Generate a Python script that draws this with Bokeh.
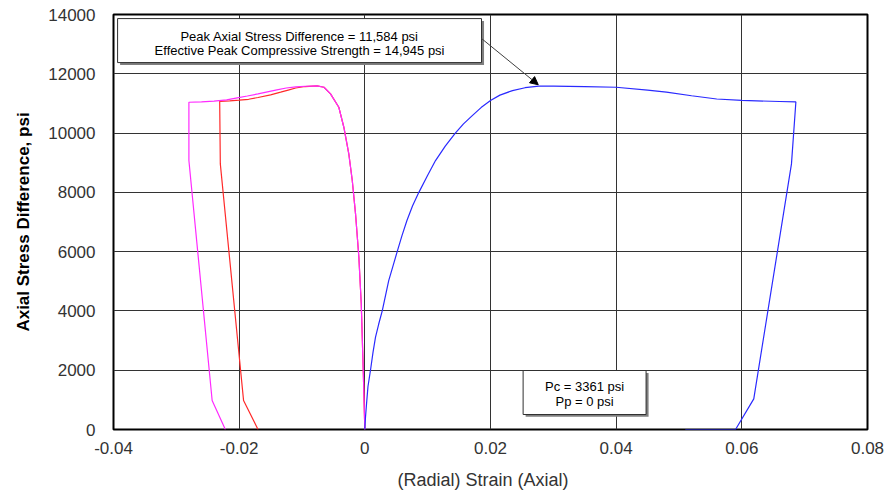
from bokeh.plotting import figure
from bokeh.models import Range1d, FixedTicker, Label, Arrow, NormalHead
from bokeh.embed import file_html
from bokeh.resources import INLINE

# ---- data ----
axial_strain = [0.0, 0.0001, 0.00027, 0.0005, 0.0009, 0.0013, 0.0017, 0.0022, 0.00277, 0.0038,
                0.0045, 0.00515, 0.0059, 0.0067, 0.0076, 0.0086, 0.0100, 0.01125, 0.0128,
                0.0144, 0.0157, 0.0171, 0.0185, 0.0200, 0.0215, 0.0235, 0.0255, 0.0277,
                0.0300, 0.0350, 0.0400, 0.0450, 0.0480, 0.0520, 0.0560, 0.0600, 0.0660,
                0.0686, 0.0679, 0.0619, 0.0590, 0.0510]
axial_stress = [0, 400, 866, 1450, 2000, 2600, 3113, 3550, 4000, 5025,
                5530, 6000, 6530, 7049, 7550, 8000, 8580, 9073, 9560,
                10000, 10310, 10590, 10860, 11096, 11280, 11433, 11530, 11584,
                11584, 11570, 11545, 11450, 11380, 11260, 11150, 11100, 11065,
                11050, 8960, 1035, 0, 0]

radial1_strain = [0.0, -0.00025, -0.00057, -0.00095, -0.00148, -0.0020, -0.00255, -0.00334, -0.00414,
                  -0.00546, -0.0065, -0.0076, -0.0095, -0.0110, -0.0122, -0.0134, -0.0150,
                  -0.0170, -0.0185, -0.0200, -0.0215, -0.0231, -0.0230, -0.0193, -0.0170]
radial1_stress = [0, 1990, 4240, 5812, 7276, 8399, 9299, 10197, 10871,
                  11323, 11546, 11590, 11570, 11520, 11450, 11380, 11290,
                  11200, 11140, 11110, 11085, 11070, 8960, 978, 0]

radial2_strain = [0.0, -0.00025, -0.00057, -0.00095, -0.00148, -0.0020, -0.00255, -0.00334, -0.00414,
                  -0.00546, -0.0065, -0.0076, -0.0095, -0.0110, -0.0125, -0.0140, -0.0155,
                  -0.0170, -0.0187, -0.0203, -0.0220, -0.0240, -0.0260, -0.0280, -0.0280, -0.0243, -0.0222]
radial2_stress = [0, 1990, 4240, 5812, 7276, 8399, 9299, 10197, 10871,
                  11323, 11546, 11590, 11580, 11560, 11520, 11460, 11390,
                  11320, 11250, 11187, 11120, 11080, 11055, 11040, 9073, 978, 0]

x_ticks = [-0.04, -0.02, 0.0, 0.02, 0.04, 0.06, 0.08]
x_tick_labels = ["-0.04", "-0.02", "0", "0.02", "0.04", "0.06", "0.08"]
y_ticks = [0, 2000, 4000, 6000, 8000, 10000, 12000, 14000]
y_tick_labels = ["0", "2000", "4000", "6000", "8000", "10000", "12000", "14000"]

peak_text = ["Peak Axial Stress Difference = 11,584 psi",
             "Effective Peak Compressive Strength = 14,945 psi"]
cond_text = ["Pc = 3361 psi", "Pp = 0 psi"]
peak_point = (0.0276, 11600)

FONT = "Liberation Sans"

p = figure(width=886, height=496, output_backend="svg", toolbar_location=None,
           x_range=Range1d(-0.04, 0.08), y_range=Range1d(0, 14000),
           min_border_left=113, min_border_right=19, min_border_top=14, min_border_bottom=67)

p.background_fill_color = "white"
p.border_fill_color = "white"
p.outline_line_color = "black"
p.outline_line_width = 2

# grid
p.xgrid.ticker = FixedTicker(ticks=x_ticks)
p.ygrid.ticker = FixedTicker(ticks=y_ticks)
for g in (p.xgrid, p.ygrid):
    g.grid_line_color = "#333333"
    g.grid_line_width = 1
    g.grid_line_alpha = 1.0

# axes
p.xaxis.ticker = FixedTicker(ticks=x_ticks)
p.yaxis.ticker = FixedTicker(ticks=y_ticks)
p.xaxis.major_label_overrides = {t: l for t, l in zip(x_ticks, x_tick_labels)}
p.yaxis.major_label_overrides = {t: l for t, l in zip(y_ticks, y_tick_labels)}
for ax in (p.xaxis, p.yaxis):
    ax.axis_line_color = None
    ax.major_tick_line_color = None
    ax.minor_tick_line_color = None
    ax.major_tick_out = 0
    ax.major_tick_in = 0
    ax.major_label_text_font = FONT
    ax.major_label_text_font_size = "17px"
    ax.major_label_text_color = "#333333"

p.xaxis.axis_label = "(Radial)   Strain  (Axial)"
p.xaxis.axis_label_text_font = FONT
p.xaxis.axis_label_text_font_size = "18px"
p.xaxis.axis_label_text_font_style = "normal"
p.xaxis.axis_label_text_color = "#333333"
p.xaxis.major_label_standoff = 12
p.xaxis.axis_label_standoff = 13

p.yaxis.axis_label = "Axial Stress Difference, psi"
p.yaxis.axis_label_text_font = FONT
p.yaxis.axis_label_text_font_size = "17px"
p.yaxis.axis_label_text_font_style = "bold"
p.yaxis.axis_label_text_color = "black"
p.yaxis.major_label_standoff = 18
p.yaxis.axis_label_standoff = 12

# curves
p.line(radial1_strain, radial1_stress, line_color="#ff2a2a", line_width=1.2)
p.line(radial2_strain, radial2_stress, line_color="#ff2aff", line_width=1.2)
p.line(axial_strain, axial_stress, line_color="#2a2aff", line_width=1.2)

# annotation boxes (with drop shadow)
def box(left, right, top, bottom):
    dx, dy = 0.00040, 80
    p.quad(left=[left + dx], right=[right + dx], top=[top - dy], bottom=[bottom - dy],
           fill_color="#7f7f7f", line_color=None)
    p.quad(left=[left], right=[right], top=[top], bottom=[bottom],
           fill_color="white", line_color="#303030", line_width=1)

box(-0.03935, 0.01857, 13862, 12378)
box(0.02519, 0.04476, 1990, 506)

def lab(x, y, t):
    p.add_layout(Label(x=x, y=y, text=t, text_align="center", text_baseline="middle",
                       text_font=FONT, text_font_size="13px", text_color="black"))

lab(-0.01039, 13270, peak_text[0])
lab(-0.01039, 12800, peak_text[1])
lab(0.03497, 1460, cond_text[0])
lab(0.03497, 960, cond_text[1])

p.add_layout(Arrow(end=NormalHead(size=8, fill_color="black", line_color="black"),
                   x_start=0.01857, y_start=13190, x_end=peak_point[0], y_end=peak_point[1] + 30,
                   line_color="#404040", line_width=1))

open("out.html", "w").write(file_html(p, INLINE))
